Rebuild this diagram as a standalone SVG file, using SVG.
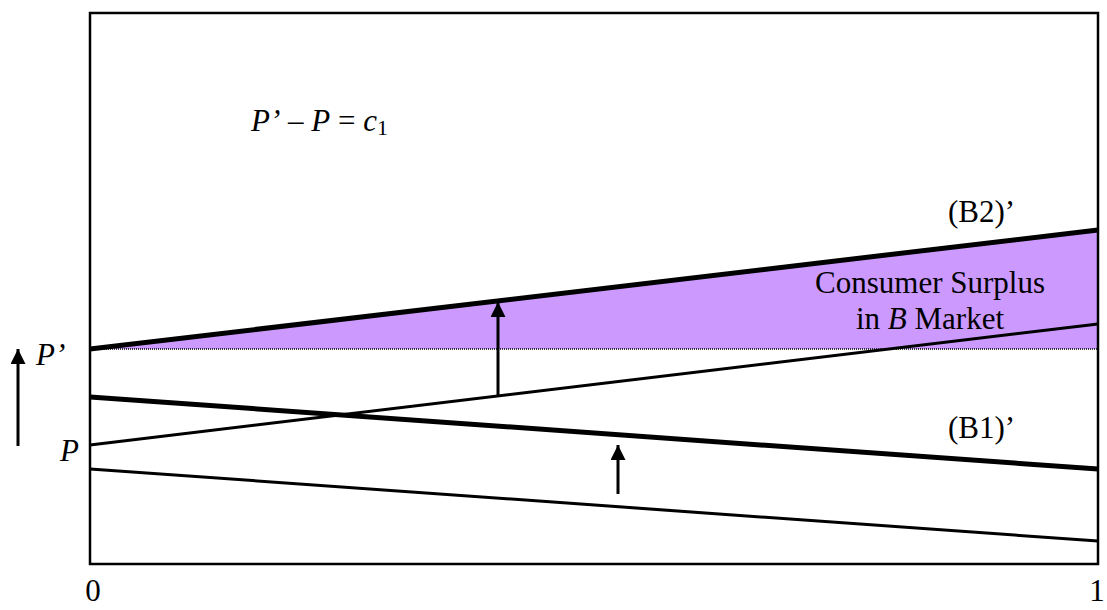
<svg xmlns="http://www.w3.org/2000/svg" width="1107" height="610" viewBox="0 0 1107 610">
<style>
text{font-family:'Liberation Serif','Times New Roman',serif;font-size:31px;fill:#000}
.it{font-style:italic}
.thick{stroke:#000;stroke-width:5;fill:none}
.thin{stroke:#000;stroke-width:3;fill:none}
.arr{stroke:#000;stroke-width:3;fill:none;marker-end:url(#ah)}
</style>
<defs>
<marker id="ah" viewBox="0 0 10 10" refX="10" refY="5" markerWidth="5" markerHeight="5" orient="auto" markerUnits="strokeWidth">
<path d="M0,0 L10,5 L0,10 z" fill="#000"/>
</marker>
</defs>
<rect width="1107" height="610" fill="#fff"/>
<g id="surplus">
<polygon points="90,349 1098,230 1098,349" fill="#CC99FF"/>
</g>
<g id="frame">
<rect x="90" y="13" width="1008" height="551" fill="none" stroke="#000" stroke-width="2.5"/>
</g>
<g id="connectors">
<line x1="90" y1="349" x2="1098" y2="349" stroke="#000" stroke-width="1.5" stroke-dasharray="1 1"/>
<line class="thick" x1="90" y1="349" x2="1098" y2="230"/>
<line class="thin" x1="90" y1="445" x2="1098" y2="324"/>
<line class="thick" x1="90" y1="397" x2="1098" y2="469"/>
<line class="thin" x1="90" y1="469" x2="1098" y2="541"/>
<line class="arr" x1="18" y1="446" x2="18" y2="349"/>
<line class="arr" x1="498" y1="396" x2="498" y2="302"/>
<line class="arr" x1="618" y1="494" x2="618" y2="445"/>
</g>
<g id="labels">
<text x="36" y="365" class="it">P’</text>
<text x="60" y="461" class="it">P</text>
<text x="251" y="131"><tspan class="it">P’</tspan> – <tspan class="it">P</tspan> = <tspan class="it">c</tspan><tspan font-size="22" dy="4">1</tspan></text>
<text x="948" y="222">(B2)’</text>
<text x="930" y="293" text-anchor="middle">Consumer Surplus</text>
<text x="930" y="329" text-anchor="middle">in <tspan class="it">B</tspan> Market</text>
<text x="948" y="438">(B1)’</text>
<text x="93" y="601" text-anchor="middle">0</text>
<text x="1097" y="601" text-anchor="middle">1</text>
</g>
</svg>
